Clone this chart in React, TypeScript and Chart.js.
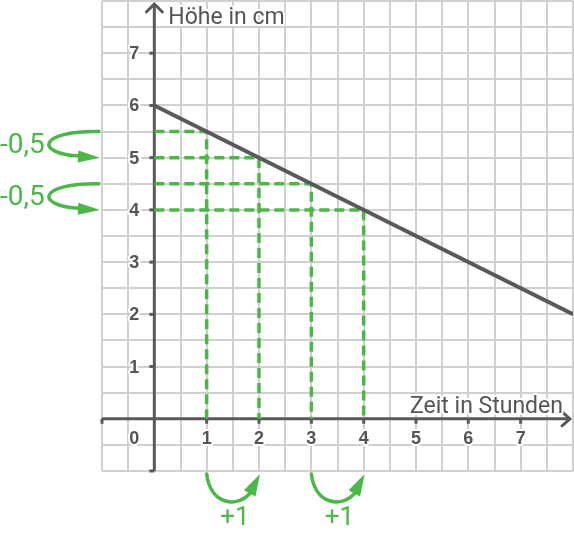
import React, { useEffect, useRef } from "react";
import { Chart, registerables } from "chart.js";

Chart.register(...registerables);

// ---- data ----
const lineX = [0, 8];
const lineY = [6, 2];
const stepX = [1, 2, 3, 4];
const stepY = [5.5, 5, 4.5, 4];
const xTickValues = [1, 2, 3, 4, 5, 6, 7];
const yTickValues = [1, 2, 3, 4, 5, 6, 7];
const tickMarks = [-1, 1, 2, 3, 4, 5, 6, 7];
const originLabel = "0";
const xTitle = "Zeit in Stunden";
const yTitle = "Höhe in cm";
const decreaseLabel = "-0,5";
const increaseLabel = "+1";
const decreaseFrom = [5.5, 4.5];
const decreaseTo = [5, 4];
const increaseFrom = [1, 3];
const increaseTo = [2, 4];
const axisMin = -1;
const axisMax = 8;

const AXIS = "#595959";
const TEXT = "#555555";
const GREEN = "#4cb648";
const GRID = "#d0d0d0";
const FONT = "Roboto, 'Noto Sans', sans-serif";
const TICKFONT = "'Liberation Sans', Arial, sans-serif";

function head(ctx: CanvasRenderingContext2D, tx: number, ty: number, ang: number, len: number, half: number) {
  const dx = Math.cos(ang), dy = Math.sin(ang);
  const bx = tx - dx * len, by = ty - dy * len;
  ctx.beginPath();
  ctx.moveTo(tx, ty);
  ctx.lineTo(bx - dy * half, by + dx * half);
  ctx.lineTo(bx + dy * half, by - dx * half);
  ctx.closePath();
  ctx.fill();
  return [bx, by];
}

const overlay = {
  id: "overlay",
  beforeDatasetsDraw(chart: any) {
    const ctx: CanvasRenderingContext2D = chart.ctx;
    const xs = chart.scales.x, ys = chart.scales.y;
    const px = (v: number) => xs.getPixelForValue(v);
    const py = (v: number) => ys.getPixelForValue(v);
    const x0 = px(0), y0 = py(0);
    ctx.save();
    ctx.strokeStyle = AXIS;
    ctx.lineWidth = 3;
    ctx.lineCap = "butt";
    // x axis
    ctx.beginPath();
    ctx.moveTo(px(axisMin), y0);
    ctx.lineTo(px(axisMax) - 3, y0);
    ctx.stroke();
    // y axis
    ctx.beginPath();
    ctx.moveTo(x0, py(axisMin));
    ctx.lineTo(x0, chart.chartArea.top + 3);
    ctx.stroke();
    // ticks
    ctx.lineWidth = 3;
    for (const v of tickMarks) {
      ctx.beginPath();
      ctx.moveTo(px(v), y0);
      ctx.lineTo(px(v), y0 + 5);
      ctx.stroke();
      ctx.beginPath();
      ctx.moveTo(x0, py(v));
      ctx.lineTo(x0 - 5, py(v));
      ctx.stroke();
    }
    // arrowheads
    ctx.lineJoin = "round";
    ctx.lineCap = "round";
    const tx = px(axisMax) - 3;
    ctx.beginPath();
    ctx.moveTo(tx - 8, y0 - 7);
    ctx.lineTo(tx, y0);
    ctx.lineTo(tx - 8, y0 + 7);
    ctx.stroke();
    const ty = chart.chartArea.top + 3;
    ctx.beginPath();
    ctx.moveTo(x0 - 8, ty + 8);
    ctx.lineTo(x0, ty);
    ctx.lineTo(x0 + 8, ty + 8);
    ctx.stroke();
    ctx.restore();
  },
  afterDatasetsDraw(chart: any) {
    const ctx: CanvasRenderingContext2D = chart.ctx;
    const xs = chart.scales.x, ys = chart.scales.y;
    const px = (v: number) => xs.getPixelForValue(v);
    const py = (v: number) => ys.getPixelForValue(v);
    const x0 = px(0), y0 = py(0);
    ctx.save();
    // tick labels
    ctx.font = `bold 18px ${TICKFONT}`;
    ctx.textAlign = "center";
    ctx.textBaseline = "middle";
    ctx.lineJoin = "round";
    const label = (t: string, x: number, y: number) => {
      ctx.strokeStyle = "#ffffff";
      ctx.lineWidth = 4;
      ctx.strokeText(t, x, y);
      ctx.fillStyle = TEXT;
      ctx.fillText(t, x, y);
    };
    for (const v of yTickValues) label(String(v), x0 - 20, py(v) + 1);
    for (const v of xTickValues) label(String(v), px(v), y0 + 20);
    label(originLabel, x0 - 20, y0 + 20);
    // titles
    ctx.font = `23px ${FONT}`;
    ctx.textAlign = "left";
    ctx.textBaseline = "alphabetic";
    label(yTitle, x0 + 14, chart.chartArea.top + 23);
    label(xTitle, px(5) - 6, y0 - 6);

    // decrease arrows (left)
    ctx.strokeStyle = GREEN;
    ctx.fillStyle = GREEN;
    ctx.lineWidth = 3.5;
    ctx.lineCap = "round";
    const xe = px(axisMin) - 2;
    for (let i = 0; i < decreaseFrom.length; i++) {
      const y1 = py(decreaseFrom[i]);
      const y2 = py(decreaseTo[i]);
      const [bx, by] = head(ctx, xe, y2, 0.05, 22, 6);
      ctx.beginPath();
      ctx.moveTo(xe - 1, y1);
      ctx.bezierCurveTo(xe - 62, y1 - 1, xe - 66, y2 - 4, bx + 2, by - 0.5);
      ctx.stroke();
      ctx.font = `28px ${FONT}`;
      ctx.textAlign = "left";
      ctx.textBaseline = "middle";
      ctx.fillText(decreaseLabel, xe - 100, (y1 + y2) / 2 + 1);
    }
    // increase arrows (bottom)
    const yb = py(axisMin) + 3;
    for (let i = 0; i < increaseFrom.length; i++) {
      const xa = px(increaseFrom[i]);
      const xb = px(increaseTo[i]);
      const ang = (-62 * Math.PI) / 180;
      const [bx, by] = head(ctx, xb + 1, yb, ang, 22, 6.5);
      ctx.beginPath();
      ctx.moveTo(xa, yb);
      ctx.bezierCurveTo(xa + 4, yb + 32, xa + 32, yb + 34, bx + 1, by - 1);
      ctx.stroke();
      ctx.font = `26px ${FONT}`;
      ctx.textAlign = "center";
      ctx.textBaseline = "middle";
      ctx.fillText(increaseLabel, (xa + xb) / 2 + 2, yb + 44);
    }
    ctx.restore();
  },
};

export default function App() {
  const ref = useRef<HTMLCanvasElement>(null);
  useEffect(() => {
    if (!ref.current) return;
    const datasets: any[] = [
      {
        data: lineX.map((x, i) => ({ x, y: lineY[i] })),
        borderColor: AXIS,
        borderWidth: 4,
        pointRadius: 0,
        showLine: true,
        fill: false,
      },
      ...stepX.map((gx, i) => ({
        data: [
          { x: 0, y: stepY[i] },
          { x: gx, y: stepY[i] },
          { x: gx, y: 0 },
        ],
        borderColor: GREEN,
        borderWidth: 3.5,
        borderDash: [10, 5],
        pointRadius: 0,
        showLine: true,
        fill: false,
      })),
    ];
    const scaleBase = (horizontal: boolean) => ({
      type: "linear" as const,
      min: axisMin,
      max: axisMax,
      ticks: { display: false, stepSize: 0.5 },
      grid: { color: GRID, lineWidth: 2, drawTicks: false },
      border: { display: false },
      afterFit: (s: any) => {
        if (horizontal) s.height = 0;
        else s.width = 0;
      },
    });
    const chart = new Chart(ref.current, {
      type: "scatter",
      data: { datasets },
      options: {
        animation: false,
        responsive: false,
        events: [],
        layout: { padding: { left: 102, top: 1, right: 1, bottom: 66 } },
        plugins: { legend: { display: false }, tooltip: { enabled: false } },
        scales: { x: scaleBase(true), y: scaleBase(false) },
      } as any,
      plugins: [overlay],
    });
    return () => chart.destroy();
  }, []);
  return (
    <div style={{ position: "absolute", left: 0, top: 0, width: 574, height: 537, background: "#fff" }}>
      <canvas ref={ref} width={574} height={537} style={{ width: 574, height: 537, display: "block" }} />
    </div>
  );
}
